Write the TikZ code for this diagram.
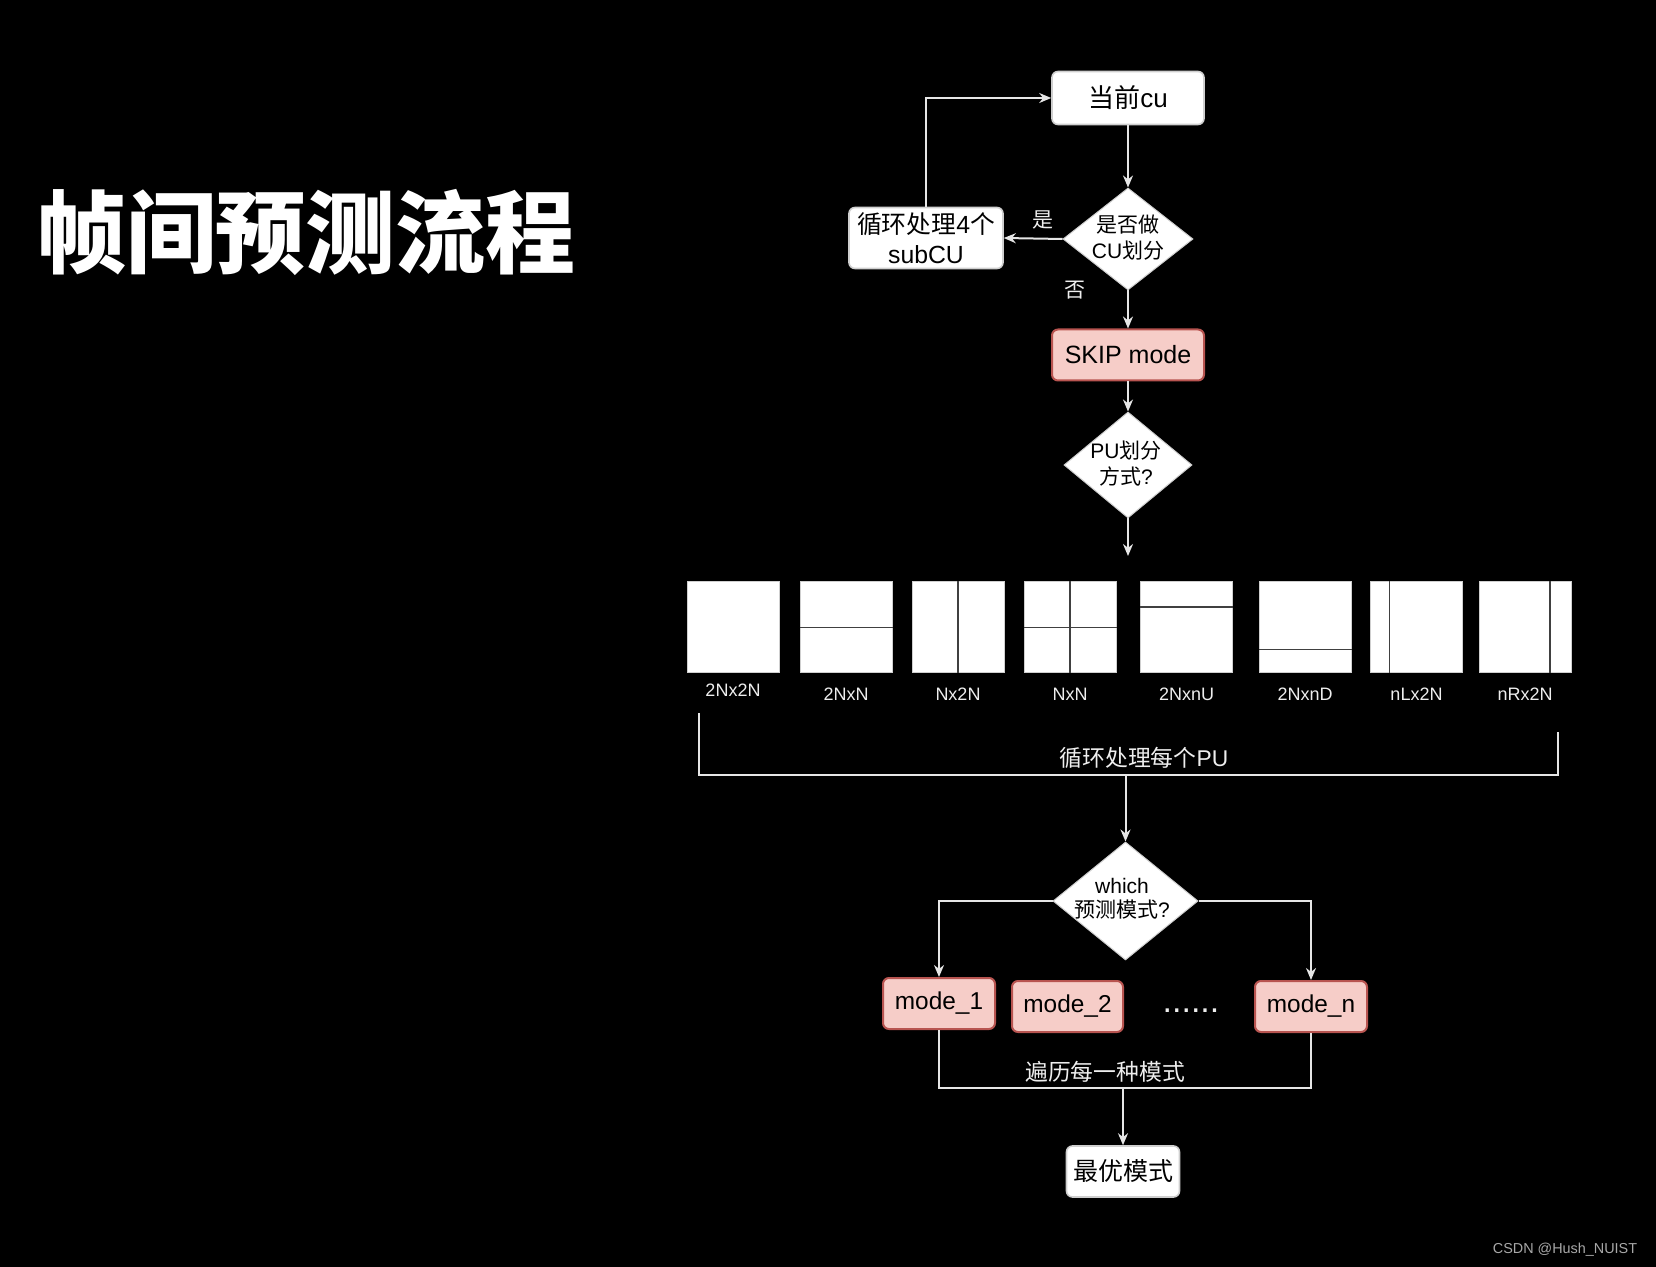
\documentclass[tikz,border=0pt]{standalone}
\usepackage{fontspec}
\setmainfont{Liberation Sans}
\newfontfamily\cjk{Noto Sans CJK SC}
\usetikzlibrary{shapes.geometric,arrows.meta,calc}
\newcommand\zhs[1]{{\cjk #1}}
\definecolor{linec}{HTML}{E6E6E6}
\definecolor{boxb}{HTML}{CFCFCF}
\definecolor{pinkf}{HTML}{F6CDC8}
\definecolor{pinkb}{HTML}{B85450}
\definecolor{labc}{HTML}{EEEEEE}
\definecolor{wmc}{HTML}{A8A8A8}
\begin{document}
\begin{tikzpicture}[x=0.5pt,y=-0.5pt,
  line/.style={draw=linec, line width=1pt},
  arr/.style={line, -{Stealth[length=6pt,width=5pt]}},
  wbox/.style={draw=boxb, fill=white, rounded corners=3pt, line width=0.8pt, text=black, align=center, inner sep=0pt},
  pbox/.style={draw=pinkb, fill=pinkf, rounded corners=3pt, line width=1pt, text=black, inner sep=0pt, minimum height=25.5pt},
  dia/.style={diamond, draw=boxb, fill=white, inner sep=0pt, line width=0.5pt},
  dtext/.style={text=black, align=center},
  pu/.style={draw=boxb, fill=white, line width=0.5pt, minimum width=46pt, minimum height=45.5pt, inner sep=0pt},
  split/.style={draw=black!75, line width=0.9pt},
  lab/.style={text=labc, font=\fontsize{9}{10}\selectfont},
  wlab/.style={text=labc},
]
\fill[black] (0,0) rectangle (1656,1267);
\useasboundingbox (0,0) rectangle (1656,1267);

% title
\node[text=white, font=\cjk\bfseries\fontsize{45}{48}\selectfont] (title) at (306,232) {帧间预测流程};

% top part
\node[wbox, minimum width=76pt, minimum height=26.5pt, font=\fontsize{13}{15}\selectfont] (cu) at (1128,98) {\zhs{当前}cu};
\node[dia, minimum width=65pt, minimum height=51pt] (d1) at (1128,239) {};
\node[dtext, font=\fontsize{10.5}{13}\selectfont] (d1t) at (1128,238) {\zhs{是否做}\\CU\zhs{划分}};
\node[wbox, minimum width=77pt, minimum height=30.5pt, font=\fontsize{12.4}{15.3}\selectfont] (sub) at (926,238) {\zhs{循环处理}4\zhs{个}\\subCU};
\node[pbox, minimum width=76pt, font=\fontsize{12.5}{15}\selectfont] (skip) at (1128,355) {SKIP mode};
\node[dia, minimum width=64pt, minimum height=53pt] (d2) at (1128,465) {};
\node[dtext, font=\fontsize{10.5}{13}\selectfont] (d2t) at (1126,464) {PU\zhs{划分}\\\zhs{方式}?};
\coordinate (puend) at (1128,556);

\node[wlab, font=\cjk\fontsize{10.5}{12}\selectfont] (yes) at (1043,220) {是};
\node[wlab, font=\cjk\fontsize{10.5}{12}\selectfont] (no) at (1075,290) {否};

\draw[arr] (cu.south) -- (d1.north);
\draw[arr] (d1.west) -- (sub.east);
\draw[arr] (sub.north) |- (cu.west);
\draw[arr] (d1.south) -- (skip.north);
\draw[arr] (skip.south) -- (d2.north);
\draw[arr] (d2.south) -- (puend);

% PU partitions
\node[pu] (p1) at (733,627.5) {};
\node[pu] (p2) at (846,627.5) {};
\node[pu] (p3) at (958,627.5) {};
\node[pu] (p4) at (1070,627.5) {};
\node[pu] (p5) at (1186.5,627.5) {};
\node[pu] (p6) at (1305,627.5) {};
\node[pu] (p7) at (1416.5,627.5) {};
\node[pu] (p8) at (1525,627.5) {};

\draw[split] (p2.west) -- (p2.east);
\draw[split] (p3.north) -- (p3.south);
\draw[split] (p4.west) -- (p4.east);
\draw[split] (p4.north) -- (p4.south);
\draw[split] ($(p5.north west)!0.28!(p5.south west)$) -- ($(p5.north east)!0.28!(p5.south east)$);
\draw[split] ($(p6.north west)!0.74!(p6.south west)$) -- ($(p6.north east)!0.74!(p6.south east)$);
\draw[split] ($(p7.north west)!0.21!(p7.north east)$) -- ($(p7.south west)!0.21!(p7.south east)$);
\draw[split] ($(p8.north west)!0.77!(p8.north east)$) -- ($(p8.south west)!0.77!(p8.south east)$);

\node[lab] (l1) at (733,690) {2Nx2N};
\node[lab] (l2) at (846,694) {2NxN};
\node[lab] (l3) at (958,694) {Nx2N};
\node[lab] (l4) at (1070,694) {NxN};
\node[lab] (l5) at (1186.5,694) {2NxnU};
\node[lab] (l6) at (1305,694) {2NxnD};
\node[lab] (l7) at (1416.5,694) {nLx2N};
\node[lab] (l8) at (1525,694) {nRx2N};

% bracket
\coordinate (bl) at (699,713);
\coordinate (br) at (1558,732);
\coordinate (bm) at (1125.5,775);
\draw[line] (bl) |- (bm) -| (br);
\node[wlab, font=\fontsize{11.4}{13}\selectfont] (loop) at (1144,758) {\zhs{循环处理每个}PU};

% which mode
\node[dia, minimum width=72.5pt, minimum height=59pt] (d3) at (1125.5,901) {};
\node[dtext, font=\fontsize{10.5}{12}\selectfont] (d3t) at (1122,899) {which\\\zhs{预测模式}?};
\draw[arr] (bm) -- (d3.north);

\node[pbox, minimum width=56pt, font=\fontsize{12.2}{14}\selectfont] (m1) at (939,1003.5) {mode\_1};
\node[pbox, minimum width=55.5pt, font=\fontsize{12.2}{14}\selectfont] (m2) at (1067.5,1006.5) {mode\_2};
\node[wlab, font=\fontsize{17}{18}\selectfont] (dots) at (1191,1011) {......};
\node[pbox, minimum width=56pt, font=\fontsize{12.2}{14}\selectfont] (mn) at (1311,1006.5) {mode\_n};

\draw[arr] (d3.west) -| (m1.north);
\draw[arr] (d3.east) -| (mn.north);

\coordinate (j) at (1123,1088);
\draw[line] (m1.south) |- (j) -| (mn.south);
\node[wlab, font=\fontsize{11.4}{13}\selectfont] (trav) at (1105,1072) {\zhs{遍历每一种模式}};

\node[wbox, minimum width=56.5pt, minimum height=25.5pt, font=\fontsize{12.5}{15}\selectfont] (best) at (1123,1171.5) {\zhs{最优模式}};
\draw[arr] (j) -- (best.north);

% watermark
\node[text=wmc, font=\fontsize{7.2}{8}\selectfont] (wm) at (1565,1250) {CSDN @Hush\_NUIST};
\end{tikzpicture}
\end{document}
